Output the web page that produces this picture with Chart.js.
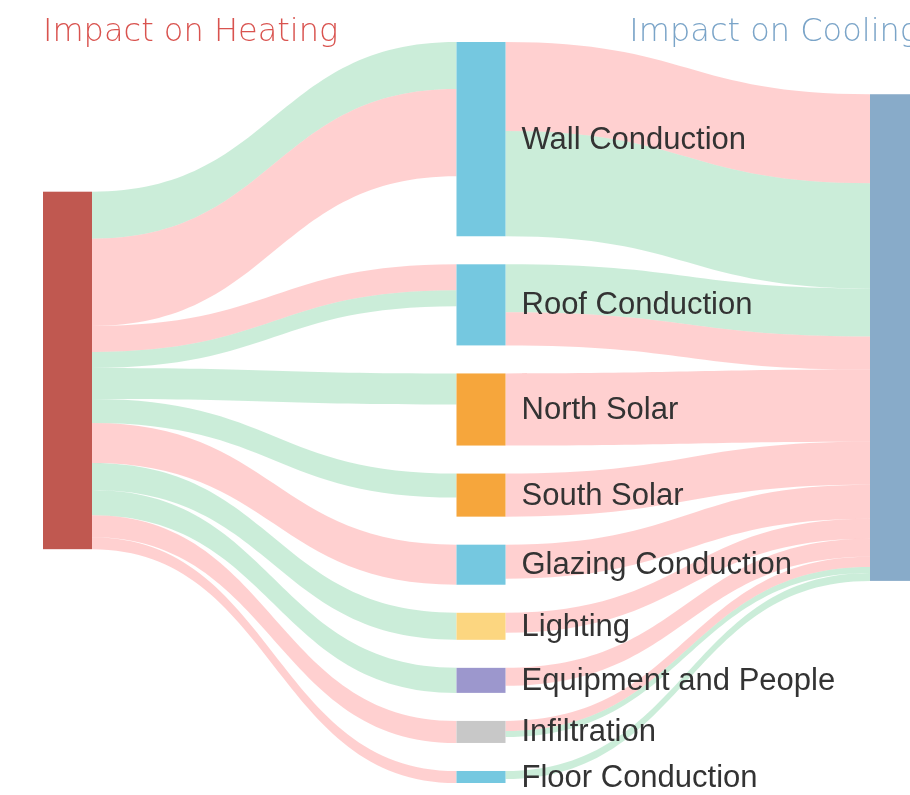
<!DOCTYPE html>
<html lang="en">
<head>
    <meta charset="UTF-8">
    <title>Impact on Heating and Cooling</title>
    <script src="https://cdn.jsdelivr.net/npm/chart.js"></script>
    <style>
        html, body {
            margin: 0;
            padding: 0;
            background: #fff;
            overflow: hidden;
        }
        #flowChart {
            display: block;
        }
    </style>
</head>
<body>
    <canvas id="flowChart" width="940" height="795"></canvas>

    <script>
        // building components in the middle column, top to bottom
        const components = ['Wall Conduction', 'Roof Conduction', 'North Solar', 'South Solar',
            'Glazing Conduction', 'Lighting', 'Equipment and People', 'Infiltration', 'Floor Conduction'];

        // flows from heating into each component ('+' increase, '-' decrease)
        const heatTarget = ['Wall Conduction', 'Wall Conduction', 'Roof Conduction', 'Roof Conduction',
            'North Solar', 'South Solar', 'Glazing Conduction', 'Lighting', 'Equipment and People',
            'Infiltration', 'Floor Conduction'];
        const heatValue = [47, 87, 26, 16, 31, 24, 40, 27, 25, 22, 12];
        const heatSign = ['-', '+', '+', '-', '-', '-', '+', '-', '-', '+', '+'];

        // flows from each component into cooling
        const coolSource = ['Wall Conduction', 'Wall Conduction', 'Roof Conduction', 'Roof Conduction',
            'North Solar', 'South Solar', 'Glazing Conduction', 'Lighting', 'Equipment and People',
            'Infiltration', 'Infiltration', 'Floor Conduction'];
        const coolValue = [89, 105, 48, 33, 72, 43, 34, 20, 18, 10, 6, 8];
        const coolSign = ['+', '-', '-', '+', '+', '+', '+', '+', '+', '+', '-', '-'];

        const titles = ['Impact on Heating', 'Impact on Cooling'];

        // styling
        const componentColors = ['#75c8e0', '#75c8e0', '#f6a63c', '#f6a63c', '#75c8e0',
            '#fcd680', '#9c97cd', '#c8c8c8', '#75c8e0'];
        const heatColor = '#c05850';
        const coolColor = '#88abc9';
        const flowColors = { '+': 'rgba(255, 150, 150, 0.45)', '-': 'rgba(125, 210, 160, 0.4)' };
        const NODE_W = 49;
        const NODE_PAD = 28;

        // --- layout in value units ---
        function buildLayout() {
            const comp = components.map(name => ({ name, inSum: 0, outSum: 0, inOff: 0, outOff: 0 }));
            heatTarget.forEach((t, i) => { comp[components.indexOf(t)].inSum += heatValue[i]; });
            coolSource.forEach((s, i) => { comp[components.indexOf(s)].outSum += coolValue[i]; });

            let y = 0;
            comp.forEach(c => {
                c.size = Math.max(c.inSum, c.outSum);
                c.y0 = y;
                c.y1 = y + c.size;
                y = c.y1 + NODE_PAD;
            });
            const columnHeight = y - NODE_PAD;

            // heating -> components
            const inLinks = heatTarget.map((t, i) => ({
                i, comp: comp[components.indexOf(t)], value: heatValue[i], sign: heatSign[i]
            }));
            inLinks.forEach(l => { l.t0 = l.comp.y0 + l.comp.inOff; l.comp.inOff += l.value; });
            let off = 0;
            inLinks.slice().sort((a, b) => a.comp.y0 - b.comp.y0 || a.i - b.i)
                .forEach(l => { l.sOff = off; off += l.value; });
            const heatSize = off;
            let acc = 0;
            inLinks.forEach(l => { acc += (l.t0 - l.sOff) * l.value; });
            const heatY0 = Math.min(Math.max(acc / heatSize, 0), columnHeight - heatSize);
            inLinks.forEach(l => { l.s0 = heatY0 + l.sOff; });

            // components -> cooling
            const outLinks = coolSource.map((s, i) => ({
                i, comp: comp[components.indexOf(s)], value: coolValue[i], sign: coolSign[i]
            }));
            outLinks.forEach(l => { l.s0 = l.comp.y0 + l.comp.outOff; l.comp.outOff += l.value; });
            off = 0;
            outLinks.slice().sort((a, b) => a.comp.y0 - b.comp.y0 || a.i - b.i)
                .forEach(l => { l.tOff = off; off += l.value; });
            const coolSize = off;
            acc = 0;
            outLinks.forEach(l => { acc += (l.s0 - l.tOff) * l.value; });
            const coolY0 = Math.min(Math.max(acc / coolSize, 0), columnHeight - coolSize);
            outLinks.forEach(l => { l.t0 = coolY0 + l.tOff; });

            return {
                comp, inLinks, outLinks, columnHeight,
                heat: { y0: heatY0, y1: heatY0 + heatSize },
                cool: { y0: coolY0, y1: coolY0 + coolSize }
            };
        }

        const layout = buildLayout();

        function drawFlow(ctx, x0, x1, s0, s1, t0, t1, color) {
            const xm = (x0 + x1) / 2;
            ctx.beginPath();
            ctx.moveTo(x0, s0);
            ctx.bezierCurveTo(xm, s0, xm, t0, x1, t0);
            ctx.lineTo(x1, t1);
            ctx.bezierCurveTo(xm, t1, xm, s1, x0, s1);
            ctx.closePath();
            ctx.fillStyle = color;
            ctx.fill();
        }

        const sankeyPlugin = {
            id: 'sankeyFlows',
            afterDatasetsDraw(chart) {
                const { ctx, scales: { x, y } } = chart;
                const colX = [0, 1, 2].map(c => x.getPixelForValue(c));
                ctx.save();

                layout.inLinks.forEach(l => {
                    drawFlow(ctx, colX[0] + NODE_W, colX[1],
                        y.getPixelForValue(l.s0), y.getPixelForValue(l.s0 + l.value),
                        y.getPixelForValue(l.t0), y.getPixelForValue(l.t0 + l.value),
                        flowColors[l.sign]);
                });
                layout.outLinks.forEach(l => {
                    drawFlow(ctx, colX[1] + NODE_W, colX[2],
                        y.getPixelForValue(l.s0), y.getPixelForValue(l.s0 + l.value),
                        y.getPixelForValue(l.t0), y.getPixelForValue(l.t0 + l.value),
                        flowColors[l.sign]);
                });

                // nodes
                const rect = (cx, a, b, color) => {
                    const top = y.getPixelForValue(a);
                    ctx.fillStyle = color;
                    ctx.fillRect(cx, top, NODE_W, y.getPixelForValue(b) - top);
                };
                rect(colX[0], layout.heat.y0, layout.heat.y1, heatColor);
                rect(colX[2], layout.cool.y0, layout.cool.y1, coolColor);
                layout.comp.forEach((c, i) => rect(colX[1], c.y0, c.y1, componentColors[i]));

                // component labels
                ctx.font = "31px 'Liberation Sans', Arial, sans-serif";
                ctx.fillStyle = '#333';
                ctx.textAlign = 'left';
                ctx.textBaseline = 'middle';
                layout.comp.forEach(c => {
                    const cy = (y.getPixelForValue(c.y0) + y.getPixelForValue(c.y1)) / 2;
                    ctx.fillText(c.name, colX[1] + NODE_W + 16, cy + 1);
                });

                // column titles
                ctx.font = "200 32px 'DejaVu Sans', sans-serif";
                ctx.textBaseline = 'alphabetic';
                ctx.fillStyle = '#d9534f';
                ctx.textAlign = 'left';
                ctx.fillText(titles[0], colX[0], 41);
                ctx.fillStyle = '#7aa4c8';
                ctx.textAlign = 'right';
                ctx.fillText(titles[1], colX[2] + NODE_W, 41);

                ctx.restore();
            }
        };

        new Chart(document.getElementById('flowChart').getContext('2d'), {
            type: 'scatter',
            data: { datasets: [] },
            options: {
                responsive: false,
                animation: false,
                events: [],
                layout: { padding: { left: 43, right: 70, top: 42, bottom: 12 } },
                scales: {
                    x: { type: 'linear', min: 0, max: 2, display: false },
                    y: { type: 'linear', min: 0, max: layout.columnHeight, reverse: true, display: false }
                },
                plugins: {
                    legend: { display: false },
                    tooltip: { enabled: false }
                }
            },
            plugins: [sankeyPlugin]
        });
    </script>
</body>
</html>
